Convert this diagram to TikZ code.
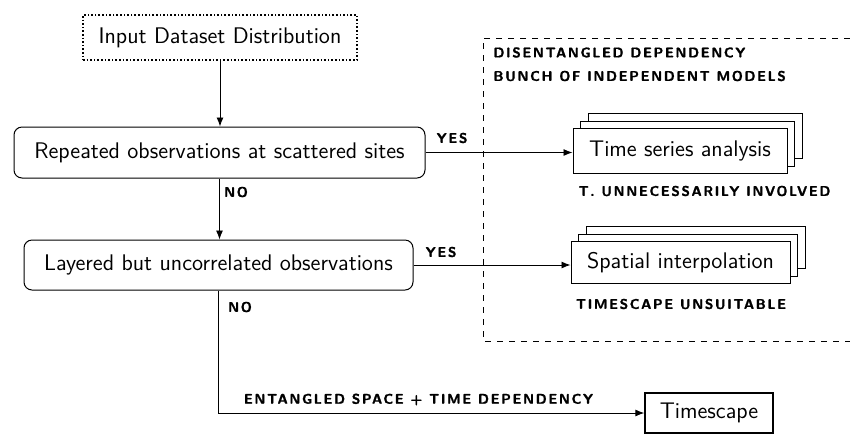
\documentclass[tikz,border=0pt]{standalone}
\usepackage{fontspec}
\newfontfamily\lblfont[LetterSpace=11,FakeBold=1.2]{lmsans10-bold.otf}
\usetikzlibrary{arrows.meta,shadows}
\begin{document}
\begin{tikzpicture}[x=0.5pt,y=-0.5pt,
  base/.style={font=\sffamily\fontsize{11.3}{13}\selectfont, align=center, inner sep=0pt},
  dotbox/.style={base, draw, densely dotted, line width=0.8pt, minimum width=137pt, minimum height=22.5pt},
  roundbox/.style={base, draw, rounded corners=4pt, line width=0.5pt, minimum height=25.5pt},
  model/.style={base, draw, fill=white, line width=0.5pt,
    double copy shadow={shadow xshift=3.75pt, shadow yshift=3.75pt}},
  plainbox/.style={base, draw, line width=0.7pt, minimum width=64pt, minimum height=20pt},
  lbl/.style={font=\lblfont\fontsize{7}{8}\selectfont, inner sep=0pt},
  conn/.style={-{Latex[length=4.5pt,width=3.5pt]}, line width=0.45pt}]
\useasboundingbox (0,0) rectangle (850,435);

% dashed group
\draw[dashed, line width=0.5pt] (850,38) -- (483,38) -- (483,341) -- (850,341);

\node[dotbox] (input) at (220,37.5) {Input Dataset Distribution};
\node[roundbox, minimum width=205.5pt] (rep) at (219.5,152.5) {Repeated observations at scattered sites};
\node[roundbox, minimum width=194.5pt, minimum height=25pt] (lay) at (218.5,265) {Layered but uncorrelated observations};
\node[model, minimum width=107pt, minimum height=22.5pt] (ts) at (680,151) {Time series analysis};
\node[model, minimum width=109.5pt, minimum height=21pt] (sp) at (680.5,262.5) {Spatial interpolation};
\node[plainbox] (tsc) at (709,413) {Timescape};

\draw[conn] (input.south) -- (input.south |- rep.north);
\draw[conn] (rep.south) -- (rep.south |- lay.north);
\draw[conn] (rep.east) -- (rep.east -| ts.west);
\draw[conn] (lay.east) -- (lay.east -| sp.west);
\coordinate (corner) at (lay.south |- tsc.west);
\draw[conn] (lay.south) -- (corner) -- (tsc.west);

\node[lbl] (yes1) at (452,138) {YES};
\node[lbl] (yes2) at (441,252) {YES};
\node[lbl] (no1) at (236,192) {NO};
\node[lbl] (no2) at (240,307) {NO};
\node[lbl, anchor=west] (dis1) at (493,52.5) {DISENTANGLED DEPENDENCY};
\node[lbl, anchor=west] (dis2) at (493,76) {BUNCH OF INDEPENDENT MODELS};
\node[lbl] (tun) at (704.5,191) {T. UNNECESSARILY INVOLVED};
\node[lbl] (tus) at (681,304) {TIMESCAPE UNSUITABLE};
\node[lbl] (ent) at (418.5,399.5) {ENTANGLED SPACE + TIME DEPENDENCY};
\end{tikzpicture}
\end{document}
